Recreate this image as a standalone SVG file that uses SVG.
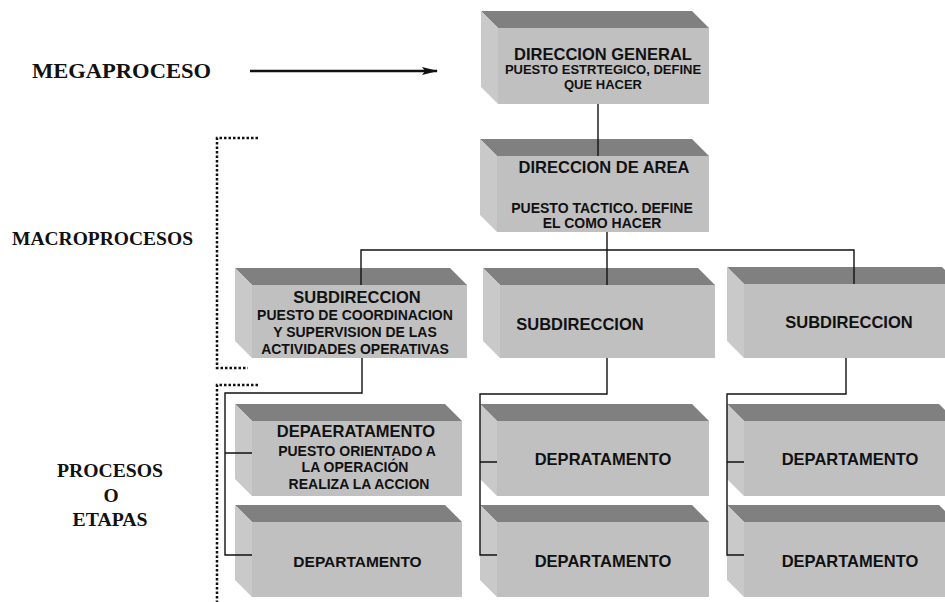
<svg xmlns="http://www.w3.org/2000/svg" width="945" height="602" viewBox="0 0 945 602">
  <style>
    .top { fill: #808080; }
    .side { fill: #c9c9c9; }
    .front { fill: #c0c0c0; }
    .t { font-family: "Liberation Sans", Arial, sans-serif; font-weight: bold; fill: #111; text-anchor: middle; }
    .h { font-size: 16.5px; }
    .s { font-size: 14px; }
    .lbl { font-family: "Liberation Serif", "Times New Roman", serif; font-weight: bold; fill: #111; text-anchor: middle; }
    .conn { fill: none; stroke: #111; stroke-width: 1.4; }
    .dot { fill: none; stroke: #111; stroke-width: 2.5; stroke-dasharray: 2.5 2; }
  </style>
  <defs>
    <marker id="head" viewBox="0 0 16 10" refX="15" refY="5" markerWidth="16" markerHeight="10" markerUnits="userSpaceOnUse" orient="auto">
      <path d="M0,1 L16,5 L0,9 L3,5 Z" fill="#111"/>
    </marker>
  </defs>

  <rect width="945" height="602" fill="#ffffff"/>

  <!-- level labels -->
  <g id="labels">
    <text class="lbl" x="121.5" y="78" font-size="22" textLength="179" lengthAdjust="spacingAndGlyphs">MEGAPROCESO</text>
    <text class="lbl" x="102.5" y="245" font-size="19.5" textLength="181" lengthAdjust="spacingAndGlyphs">MACROPROCESOS</text>
    <text class="lbl" x="110" y="477" font-size="19.5" textLength="106" lengthAdjust="spacingAndGlyphs">PROCESOS</text>
    <text class="lbl" x="111" y="502" font-size="19.5">O</text>
    <text class="lbl" x="110" y="526" font-size="19.5" textLength="75" lengthAdjust="spacingAndGlyphs">ETAPAS</text>
    <line x1="250" y1="71" x2="437" y2="71" stroke="#111" stroke-width="2.6" marker-end="url(#head)"/>
  </g>

  <!-- dotted brackets -->
  <g id="brackets">
    <path class="dot" d="M258,138 H217 V368 H248"/>
    <path class="dot" d="M258,385 H217 V602"/>
  </g>

  <!-- boxes: each drawn at its front face origin -->
  <g id="direccion-general" transform="translate(498,28)">
    <path class="top" d="M-17,-17 H194 L211,0 H0 Z"/>
    <path class="side" d="M-17,-17 L0,0 V76 L-17,59 Z"/>
    <rect class="front" width="211" height="76"/>
    <text class="t h" x="105" y="32">DIRECCION GENERAL</text>
    <text class="t" x="105" y="46" font-size="13">PUESTO ESTRTEGICO, DEFINE</text>
    <text class="t" x="105" y="61" font-size="13">QUE HACER</text>
  </g>

  <g id="direccion-area" transform="translate(497,156)">
    <path class="top" d="M-17,-17 H195 L212,0 H0 Z"/>
    <path class="side" d="M-17,-17 L0,0 V76 L-17,59 Z"/>
    <rect class="front" width="212" height="76"/>
    <text class="t h" x="107" y="17">DIRECCION DE AREA</text>
    <text class="t s" x="105" y="57">PUESTO TACTICO. DEFINE</text>
    <text class="t s" x="105" y="72">EL COMO HACER</text>
  </g>

  <g id="subdireccion-1" transform="translate(252,285)">
    <path class="top" d="M-17,-17 H198 L215,0 H0 Z"/>
    <path class="side" d="M-17,-17 L0,0 V73 L-17,56 Z"/>
    <rect class="front" width="215" height="73"/>
    <text class="t h" x="105" y="18">SUBDIRECCION</text>
    <text class="t s" x="103" y="35">PUESTO DE COORDINACION</text>
    <text class="t s" x="103" y="52">Y SUPERVISION DE LAS</text>
    <text class="t s" x="103" y="69">ACTIVIDADES OPERATIVAS</text>
  </g>

  <g id="subdireccion-2" transform="translate(500,285)">
    <path class="top" d="M-17,-17 H198 L215,0 H0 Z"/>
    <path class="side" d="M-17,-17 L0,0 V73 L-17,56 Z"/>
    <rect class="front" width="215" height="73"/>
    <text class="t h" x="80" y="45">SUBDIRECCION</text>
  </g>

  <g id="subdireccion-3" transform="translate(744,284)">
    <path class="top" d="M-17,-17 H198 L215,0 H0 Z"/>
    <path class="side" d="M-17,-17 L0,0 V74 L-17,57 Z"/>
    <rect class="front" width="215" height="74"/>
    <text class="t h" x="105" y="44">SUBDIRECCION</text>
  </g>

  <g id="departamento-1a" transform="translate(252,421)">
    <path class="top" d="M-17,-17 H193 L210,0 H0 Z"/>
    <path class="side" d="M-17,-17 L0,0 V75 L-17,58 Z"/>
    <rect class="front" width="210" height="75"/>
    <text class="t h" x="104" y="16">DEPAERATAMENTO</text>
    <text class="t s" x="105" y="35">PUESTO ORIENTADO A</text>
    <text class="t s" x="103" y="51">LA OPERACIÓN</text>
    <text class="t s" x="107" y="68">REALIZA LA ACCION</text>
  </g>

  <g id="departamento-1b" transform="translate(252,522)">
    <path class="top" d="M-17,-17 H193 L210,0 H0 Z"/>
    <path class="side" d="M-17,-17 L0,0 V75 L-17,58 Z"/>
    <rect class="front" width="210" height="75"/>
    <text class="t" x="105.5" y="45" font-size="15.5">DEPARTAMENTO</text>
  </g>

  <g id="departamento-2a" transform="translate(497,421)">
    <path class="top" d="M-17,-17 H195 L212,0 H0 Z"/>
    <path class="side" d="M-17,-17 L0,0 V75 L-17,58 Z"/>
    <rect class="front" width="212" height="75"/>
    <text class="t h" x="106" y="44">DEPRATAMENTO</text>
  </g>

  <g id="departamento-2b" transform="translate(497,522)">
    <path class="top" d="M-17,-17 H195 L212,0 H0 Z"/>
    <path class="side" d="M-17,-17 L0,0 V75 L-17,58 Z"/>
    <rect class="front" width="212" height="75"/>
    <text class="t h" x="106" y="45">DEPARTAMENTO</text>
  </g>

  <g id="departamento-3a" transform="translate(744,421)">
    <path class="top" d="M-17,-17 H195 L212,0 H0 Z"/>
    <path class="side" d="M-17,-17 L0,0 V75 L-17,58 Z"/>
    <rect class="front" width="212" height="75"/>
    <text class="t h" x="106" y="44">DEPARTAMENTO</text>
  </g>

  <g id="departamento-3b" transform="translate(744,522)">
    <path class="top" d="M-17,-17 H195 L212,0 H0 Z"/>
    <path class="side" d="M-17,-17 L0,0 V75 L-17,58 Z"/>
    <rect class="front" width="212" height="75"/>
    <text class="t h" x="106" y="45">DEPARTAMENTO</text>
  </g>

  <!-- connectors -->
  <g id="connectors">
    <path class="conn" d="M598,104 V156"/>
    <path class="conn" d="M607,232 V250 M361,285 V250 H854 V284 M607,250 V285"/>
    <path class="conn" d="M362,358 V393 H225 V555 H252 M225,453 H252"/>
    <path class="conn" d="M607,358 V394 H480 V555 H497 M480,462 H497"/>
    <path class="conn" d="M846,358 V394 H727 V555 H744 M727,462 H744"/>
  </g>
</svg>
